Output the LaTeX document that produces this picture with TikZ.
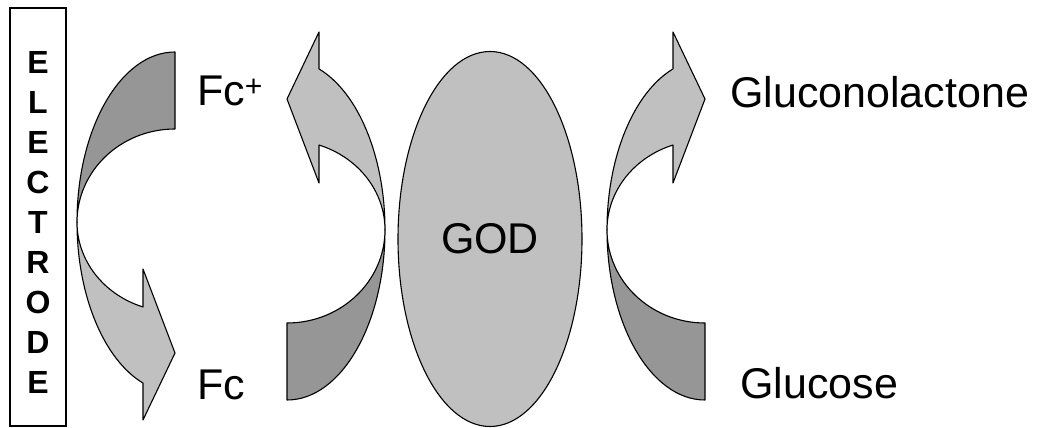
\documentclass[tikz,border=0pt]{standalone}
\usepackage{fontspec}
\setmainfont{Liberation Sans}
\usetikzlibrary{shapes.geometric}
\definecolor{shadelo}{HTML}{C0C0C0}
\definecolor{shadehi}{HTML}{969696}
\tikzset{
  headband/.style = {fill=shadelo, draw=black, line width=1.1pt, line join=round},
  tailband/.style = {fill=shadehi, draw=black, line width=1.1pt, line join=round},
  enzyme/.style   = {ellipse, fill=shadelo, draw=black, line width=1.1pt, minimum width=184pt, minimum height=375pt, inner sep=0pt, font=\fontsize{43}{48}\selectfont},
  slab/.style     = {draw=black, line width=1.1pt, minimum width=56pt, minimum height=418pt, inner sep=0pt},
  elec/.style     = {font=\fontsize{32}{36}\selectfont\bfseries, inner sep=0pt},
  lbl/.style      = {font=\fontsize{43}{48}\selectfont, anchor=base west, inner sep=0pt},
}

\begin{document}
\begin{tikzpicture}[x=1pt,y=-1pt]
\path[use as bounding box] (0,0) rectangle (1039,428);

% ---- electrode ----------------------------------------------------------
\node[slab] (electrode) at (38,217) {};
\foreach \ch [count=\i from 0] in {E,L,E,C,T,R,O,D,E}
  \node[elec] (let\i) at (38,62+40*\i) {\ch};

% ---- the enzyme ---------------------------------------------------------
\node[enzyme] (god) at (490,239) {GOD};

% ---- curved arrows: dark tail, light head --------------------------------
\foreach \sx/\sy/\xs/\ys in {175/222.2/1/-1, 287/229.8/-1/1, 705/229.8/1/1} {
  \begin{scope}[shift={(\sx,\sy)}, xscale=\xs, yscale=\ys]
    \path[tailband] (0,170.2) arc[start angle=90, end angle=180, x radius=98, y radius=170.2]
      arc[start angle=180, end angle=90, x radius=98, y radius=93.2] -- cycle;
    \path[headband] (-98,0) arc[start angle=180, end angle=250.94, x radius=98, y radius=170.2]
      -- (-32,-197.8) -- (0,-130.8) -- (-32,-46.8) -- (-32,-84.8)
      arc[start angle=250.94, end angle=180, x radius=98, y radius=89.7] -- cycle;
  \end{scope}
}

% ---- species -------------------------------------------------------------
\node[lbl] (fcplus)  at (197,106) {Fc\textsuperscript{+}};
\node[lbl] (fc)      at (197,399) {Fc};
\node[lbl] (glucono) at (730,107) {Gluconolactone};
\node[lbl] (glucose) at (740,398) {Glucose};

\end{tikzpicture}
\end{document}
